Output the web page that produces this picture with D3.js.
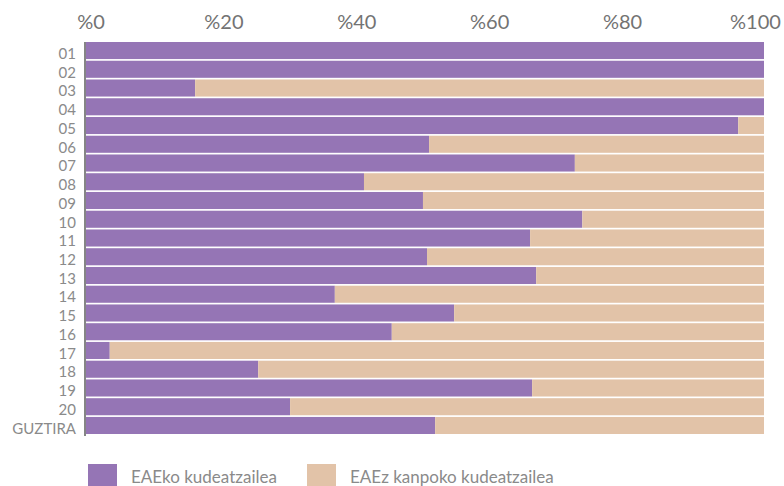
<!DOCTYPE html>
<html>
<head>
<meta charset="utf-8">
<script src="https://cdn.jsdelivr.net/npm/d3@7/dist/d3.min.js"></script>
<style>
  html, body { margin: 0; padding: 0; background: #fff; }
  svg { display: block; }
  text { font-family: Lato, "Open Sans", sans-serif; }
</style>
</head>
<body>
<svg id="chart" width="784" height="486"></svg>
<script>
const categories = ["01","02","03","04","05","06","07","08","09","10","11","12","13","14","15","16","17","18","19","20","GUZTIRA"];
const insideValues = [100, 100, 16.1, 100, 96.2, 50.6, 72.1, 41.0, 49.7, 73.2, 65.5, 50.3, 66.4, 36.7, 54.3, 45.1, 3.5, 25.4, 65.8, 30.1, 51.5];
const outsideValues = insideValues.map(v => +(100 - v).toFixed(1));
const seriesNames = ["EAEko kudeatzailea", "EAEz kanpoko kudeatzailea"];
const tickValues = [0, 20, 40, 60, 80, 100];

const colors = ["#9575b5", "#e2c3a8"];

const svg = d3.select("#chart");

const x = d3.scaleLinear().domain([0, 100]).range([86, 764]);
const xLabels = d3.scaleLinear().domain([0, 100]).range([90.5, 755]);
const y = d3.scaleBand().domain(categories).range([42, 434]).paddingInner(0.09).paddingOuter(0);

const rows = categories.map((c, i) => ({ cat: c, inside: insideValues[i], outside: outsideValues[i] }));
const stacked = d3.stack().keys(["inside", "outside"])(rows);

svg.append("g").selectAll("g")
  .data(stacked)
  .join("g")
  .attr("fill", (d, i) => colors[i])
  .selectAll("rect")
  .data(d => d)
  .join("rect")
  .attr("x", d => x(d[0]))
  .attr("width", d => Math.max(0, x(d[1]) - x(d[0])))
  .attr("y", d => y(d.data.cat))
  .attr("height", y.bandwidth());

// top axis labels
const xAxis = d3.axisTop(xLabels).tickValues(tickValues).tickSize(0).tickPadding(0).tickFormat(d => "%" + d);
const gx = svg.append("g").attr("transform", "translate(0,29)").call(xAxis);
gx.select(".domain").remove();
gx.selectAll("text")
  .attr("fill", "#737373")
  .attr("font-size", 20)
  .attr("font-family", "Lato, 'Open Sans', sans-serif")
  .attr("dy", 0);

// left category axis
const yAxis = d3.axisLeft(y).tickSize(0).tickPadding(9);
const gy = svg.append("g").attr("transform", "translate(85,0)").call(yAxis);
gy.select(".domain").remove();
gy.selectAll("text")
  .attr("fill", "#8a8a8a")
  .attr("font-size", 15)
  .attr("font-family", "Lato, 'Open Sans', sans-serif")
  .attr("dy", "0.55em");

svg.append("line")
  .attr("x1", 85).attr("x2", 85)
  .attr("y1", 42).attr("y2", 436)
  .attr("stroke", "#858585").attr("stroke-width", 2);

// legend
const legendX = [88, 307];
const lg = svg.append("g").selectAll("g").data(seriesNames).join("g")
  .attr("transform", (d, i) => `translate(${legendX[i]},464)`);
lg.append("rect").attr("width", 29).attr("height", 29).attr("fill", (d, i) => colors[i]);
lg.append("text")
  .attr("x", 43).attr("y", 19)
  .attr("fill", "#8a8a8a")
  .attr("font-size", 17)
  .text(d => d);
</script>
</body>
</html>
